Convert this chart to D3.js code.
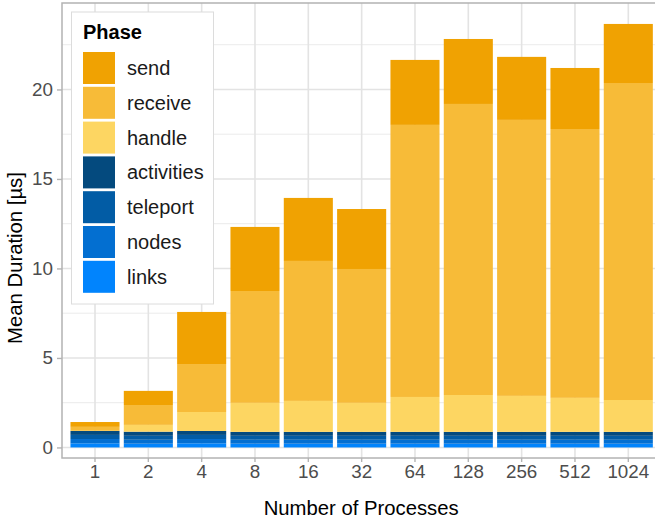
<!DOCTYPE html>
<html>
<head>
<meta charset="utf-8">
<script src="https://cdn.jsdelivr.net/npm/d3@7"></script>
<style>
  body { margin: 0; background: #fff; }
  text { font-family: "Liberation Sans", Arial, sans-serif; }
</style>
</head>
<body>
<div id="chart"></div>
<script>
// Data (mean duration per phase, in µs)
const processes = ['1', '2', '4', '8', '16', '32', '64', '128', '256', '512', '1024'];
const links      = [0.23, 0.21, 0.23, 0.21, 0.21, 0.21, 0.21, 0.21, 0.21, 0.21, 0.21];
const nodes      = [0.24, 0.22, 0.24, 0.22, 0.22, 0.22, 0.22, 0.22, 0.22, 0.22, 0.22];
const teleport   = [0.23, 0.22, 0.23, 0.22, 0.22, 0.22, 0.22, 0.22, 0.22, 0.22, 0.22];
const activities = [0.22, 0.23, 0.22, 0.22, 0.22, 0.22, 0.22, 0.22, 0.22, 0.22, 0.22];
const handle     = [0.01, 0.38, 1.06, 1.62, 1.73, 1.62, 1.95, 2.06, 2.01, 1.90, 1.78];
const receive    = [0.22, 1.11, 2.68, 6.25, 7.82, 7.48, 15.20, 16.26, 15.42, 15.02, 17.71];
const send       = [0.27, 0.79, 2.91, 3.58, 3.52, 3.35, 3.63, 3.63, 3.52, 3.41, 3.30];
const yTicks = [0, 5, 10, 15, 20];
const yMinor = [2.5, 7.5, 12.5, 17.5, 22.5];

// stacking order (bottom to top) and legend order (top to bottom)
const stackKeys = ['links', 'nodes', 'teleport', 'activities', 'handle', 'receive', 'send'];
const legendKeys = ['send', 'receive', 'handle', 'activities', 'teleport', 'nodes', 'links'];
const colors = {
  send: '#f0a202', receive: '#f7bb38', handle: '#fdd662',
  activities: '#044a7e', teleport: '#025ca5', nodes: '#036fd1', links: '#0184fd'
};

const series = {links, nodes, teleport, activities, handle, receive, send};
const table = processes.map((p, i) => {
  const row = {proc: p};
  stackKeys.forEach(k => row[k] = series[k][i]);
  return row;
});

const W = 655, H = 521;
const panel = {left: 62, right: 660.3, top: 3, bottom: 458};

const x = d3.scaleBand().domain(processes)
  .range([panel.left + 1, panel.right])
  .paddingInner(0.08).paddingOuter(0.14);
const y = d3.scaleLinear().domain([-0.59, 24.83]).range([panel.bottom, panel.top]);

const svg = d3.select('#chart').append('svg')
  .attr('width', W).attr('height', H);

svg.append('rect').attr('width', W).attr('height', H).attr('fill', '#fff');

// grid
const grid = svg.append('g');
grid.selectAll('.minor').data(yMinor).enter().append('line')
  .attr('x1', panel.left).attr('x2', panel.right)
  .attr('y1', d => y(d)).attr('y2', d => y(d))
  .attr('stroke', '#ebebeb').attr('stroke-width', 1);
grid.selectAll('.major').data(yTicks).enter().append('line')
  .attr('x1', panel.left).attr('x2', panel.right)
  .attr('y1', d => y(d)).attr('y2', d => y(d))
  .attr('stroke', '#e3e3e3').attr('stroke-width', 1.6);
grid.selectAll('.vmajor').data(processes).enter().append('line')
  .attr('x1', d => x(d) + x.bandwidth() / 2).attr('x2', d => x(d) + x.bandwidth() / 2)
  .attr('y1', panel.top).attr('y2', panel.bottom)
  .attr('stroke', '#e3e3e3').attr('stroke-width', 1.6);

// bars
const stacked = d3.stack().keys(stackKeys)(table);
svg.append('g').selectAll('g').data(stacked).enter().append('g')
  .attr('fill', d => colors[d.key])
  .selectAll('rect').data(d => d).enter().append('rect')
  .attr('x', d => x(d.data.proc))
  .attr('width', x.bandwidth())
  .attr('y', d => y(d[1]))
  .attr('height', d => y(d[0]) - y(d[1]));

// panel border
svg.append('rect')
  .attr('x', panel.left).attr('y', panel.top)
  .attr('width', panel.right - panel.left).attr('height', panel.bottom - panel.top)
  .attr('fill', 'none').attr('stroke', '#b3b3b3').attr('stroke-width', 1.5);

// axes
const yAxis = d3.axisLeft(y).tickValues(yTicks).tickSize(5).tickPadding(4);
const gy = svg.append('g').attr('transform', `translate(${panel.left},0)`).call(yAxis);
gy.select('.domain').remove();
gy.selectAll('line').attr('stroke', '#b3b3b3').attr('stroke-width', 1.4);
gy.selectAll('text').attr('fill', '#4d4d4d').attr('font-size', 18.8)
  .attr('font-family', '"Liberation Sans", Arial, sans-serif');

const xAxis = d3.axisBottom(x).tickSize(4).tickPadding(3);
const gx = svg.append('g').attr('transform', `translate(0,${panel.bottom})`).call(xAxis);
gx.select('.domain').remove();
gx.selectAll('line').attr('stroke', '#b3b3b3').attr('stroke-width', 1.4);
gx.selectAll('text').attr('fill', '#4d4d4d').attr('font-size', 18.8)
  .attr('font-family', '"Liberation Sans", Arial, sans-serif');

svg.append('text')
  .attr('x', (panel.left + panel.right) / 2).attr('y', 515)
  .attr('text-anchor', 'middle').attr('font-size', 20.3).attr('fill', '#000')
  .text('Number of Processes');
svg.append('text')
  .attr('transform', 'translate(22,258) rotate(-90)')
  .attr('text-anchor', 'middle').attr('font-size', 20.3).attr('fill', '#000')
  .text('Mean Duration [µs]');

// legend
const legend = svg.append('g');
legend.append('rect')
  .attr('x', 71.5).attr('y', 12).attr('width', 142).attr('height', 292)
  .attr('fill', '#fff').attr('stroke', '#dcdcdc').attr('stroke-width', 1);
legend.append('text')
  .attr('x', 83).attr('y', 39).attr('font-size', 20).attr('font-weight', 'bold')
  .text('Phase');
const items = legend.selectAll('.legend-item').data(legendKeys).enter().append('g')
  .attr('transform', (d, i) => `translate(83,${52 + i * 34.8})`);
items.append('rect')
  .attr('width', 32).attr('height', 32)
  .attr('fill', d => colors[d]);
items.append('text')
  .attr('x', 44).attr('y', 16).attr('dy', '0.35em')
  .attr('font-size', 20).attr('fill', '#1a1a1a')
  .text(d => d);
</script>
</body>
</html>
